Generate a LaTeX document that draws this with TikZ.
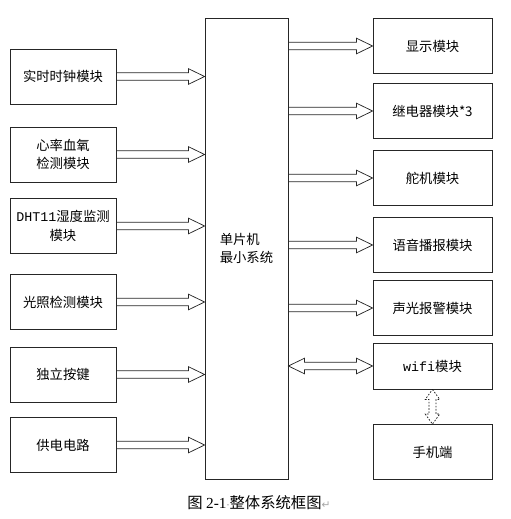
\documentclass[tikz,border=0pt]{standalone}
\usepackage{fontspec}
\setmainfont{Noto Sans CJK SC}
\newfontfamily\latinmono{Liberation Mono}
\newfontfamily\latinserif{Liberation Serif}
\newfontfamily\marksfont{DejaVu Sans}
\usetikzlibrary{calc}

\tikzset{
  box/.style={draw=black!85, line width=0.6pt, minimum width=79.5pt,
              minimum height=41.25pt, inner sep=1pt, align=center,
              font=\fontsize{10}{14}\selectfont},
  rbox/.style={box, minimum width=89.25pt},
  fatline/.style={draw=black!85, line width=0.55pt, line join=miter},
  dotline/.style={draw=black!90, line width=0.55pt, dash pattern=on 1.2pt off 1.2pt}
}

% hollow arrow, left to right
\newcommand{\fatarrow}[2]{%
  \draw[fatline] let \p1=(#1), \p2=(#2) in
    (\x1,\y1+\shaftw) -- (\x2-\headl,\y1+\shaftw) -- (\x2-\headl,\y1+\headw)
    -- (\x2,\y1) -- (\x2-\headl,\y1-\headw) -- (\x2-\headl,\y1-\shaftw)
    -- (\x1,\y1-\shaftw) -- cycle;}

% hollow arrow, both ends
\newcommand{\fatdarrow}[2]{%
  \draw[fatline] let \p1=(#1), \p2=(#2) in
    (\x1,\y1) -- (\x1+\headl,\y1+\headw) -- (\x1+\headl,\y1+\shaftw)
    -- (\x2-\headl,\y1+\shaftw) -- (\x2-\headl,\y1+\headw) -- (\x2,\y1)
    -- (\x2-\headl,\y1-\headw) -- (\x2-\headl,\y1-\shaftw)
    -- (\x1+\headl,\y1-\shaftw) -- (\x1+\headl,\y1-\headw) -- cycle;}

% hollow arrow, both ends, top to bottom
\newcommand{\fatvdarrow}[2]{%
  \draw[dotline] let \p1=(#1), \p2=(#2) in
    (\x1,\y1) -- (\x1+\vheadw,\y1-\vheadl) -- (\x1+\vshaftw,\y1-\vheadl)
    -- (\x1+\vshaftw,\y2+\vheadl) -- (\x1+\vheadw,\y2+\vheadl) -- (\x1,\y2)
    -- (\x1-\vheadw,\y2+\vheadl) -- (\x1-\vshaftw,\y2+\vheadl)
    -- (\x1-\vshaftw,\y1-\vheadl) -- (\x1-\vheadw,\y1-\vheadl) -- cycle;}

\begin{document}
\begin{tikzpicture}[x=0.75pt,y=-0.75pt]
  \useasboundingbox (0,0) rectangle (511,519);

  % --- Arrow sizes ---
  \def\shaftw{2.8pt}
  \def\headw{5.8pt}
  \def\headl{12pt}
  \def\vshaftw{2.6pt}
  \def\vheadw{5.4pt}
  \def\vheadl{7.5pt}

  % --- Inputs ---
  \node[box] (rtc)   at (63,76.5)  {实时时钟模块};
  \node[box] (spo)   at (63,154.5) {心率血氧\\检测模块};
  \node[box] (dht)   at (63,226)   {{\latinmono DHT11}湿度监测\\模块};
  \node[box] (light) at (63,302)   {光照检测模块};
  \node[box] (key)   at (63,374.5) {独立按键};
  \node[box] (power) at (63,445)   {供电电路};

  % --- MCU ---
  \node[box, minimum width=62.25pt, minimum height=345.75pt, align=left]
       (mcu) at (246.5,248.5) {单片机\\最小系统};

  % --- Outputs ---
  \node[rbox] (disp)  at (432.5,46)  {显示模块};
  \node[rbox] (relay) at (432.5,111) {继电器模块*3};
  \node[rbox] (servo) at (432.5,178) {舵机模块};
  \node[rbox] (voice) at (432.5,245) {语音播报模块};
  \node[rbox] (alarm) at (432.5,308) {声光报警模块};
  \node[rbox, minimum height=34.5pt] (wifi) at (432.5,366) {{\latinmono wifi}模块};
  \node[rbox] (phone) at (432.5,452) {手机端};

  % --- Arrows in ---
  \foreach \src in {rtc,spo,dht,light,key,power}
    \fatarrow{\src.east}{\src.east -| mcu.west};

  % --- Arrows out ---
  \foreach \dst in {disp,relay,servo,voice,alarm}
    \fatarrow{mcu.east |- \dst.west}{\dst.west};

  \fatdarrow{mcu.east |- wifi.west}{wifi.west};
  \fatvdarrow{wifi.south}{phone.north};

  % --- Caption ---
  \node[font=\fontsize{11.5}{14}\selectfont] (caption) at (259,503)
       {图 {\latinserif 2-1}{\marksfont\color{gray}\scriptsize·}整体系统框图{\marksfont\color{gray!70}\footnotesize↵}};
\end{tikzpicture}
\end{document}
